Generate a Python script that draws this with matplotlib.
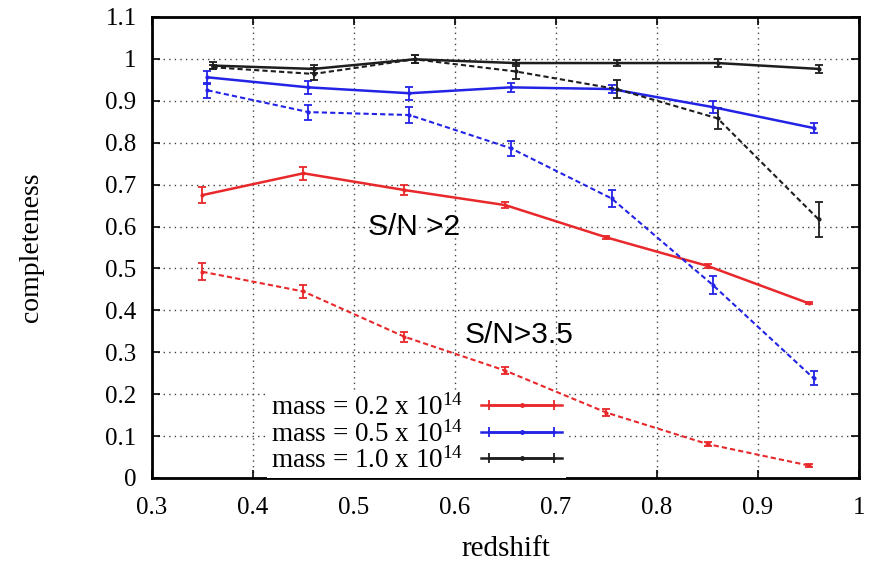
import matplotlib
matplotlib.use("Agg")
import matplotlib.pyplot as plt
from matplotlib.lines import Line2D
from matplotlib.legend_handler import HandlerLine2D, HandlerTuple
from matplotlib.ticker import MultipleLocator, FormatStrFormatter

plt.rcParams['font.family'] = ['Liberation Serif', 'DejaVu Serif']
plt.rcParams['mathtext.fontset'] = 'custom'
plt.rcParams['mathtext.rm'] = 'Liberation Serif'
plt.rcParams['mathtext.it'] = 'Liberation Serif'

# ---------------- data ----------------
z_red = [0.35, 0.45, 0.55, 0.65, 0.75, 0.85, 0.95]
z_blue = [0.355, 0.455, 0.555, 0.655, 0.755, 0.855, 0.955]
z_black = [0.36, 0.46, 0.56, 0.66, 0.76, 0.86, 0.96]

# S/N > 2 (solid)
red_sn2 = [0.675, 0.727, 0.687, 0.651, 0.574, 0.506, 0.417]
red_sn2_err = [0.02, 0.015, 0.012, 0.008, 0.004, 0.004, 0.003]
blue_sn2 = [0.956, 0.932, 0.918, 0.932, 0.928, 0.885, 0.835]
blue_sn2_err = [0.015, 0.015, 0.015, 0.01, 0.01, 0.015, 0.012]
black_sn2 = [0.984, 0.976, 0.999, 0.99, 0.99, 0.99, 0.976]
black_sn2_err = [0.008, 0.01, 0.01, 0.008, 0.008, 0.01, 0.01]

# S/N > 3.5 (dashed)
red_sn35 = [0.492, 0.445, 0.337, 0.256, 0.156, 0.081, 0.030]
red_sn35_err = [0.02, 0.015, 0.012, 0.008, 0.008, 0.004, 0.003]
blue_sn35 = [0.925, 0.873, 0.866, 0.787, 0.667, 0.461, 0.238]
blue_sn35_err = [0.018, 0.018, 0.018, 0.018, 0.021, 0.022, 0.017]
black_sn35 = [0.98, 0.964, 0.999, 0.97, 0.928, 0.858, 0.617]
black_sn35_err = [0.005, 0.015, 0.01, 0.017, 0.022, 0.025, 0.042]

legend_labels = ["mass = 0.2 x 10$^{14}$", "mass = 0.5 x 10$^{14}$", "mass = 1.0 x 10$^{14}$"]
ann_sn2 = "S/N >2"
ann_sn35 = "S/N>3.5"

RED = '#e8282a'
BLUE = '#2323e6'
BLACK = '#1e1e1e'

fig = plt.figure(figsize=(8.73, 5.65), dpi=100)
ax = fig.add_axes([0.174, 0.154, 0.810, 0.816])

series = [
    (z_red, red_sn2, red_sn2_err, red_sn35, red_sn35_err, RED),
    (z_blue, blue_sn2, blue_sn2_err, blue_sn35, blue_sn35_err, BLUE),
    (z_black, black_sn2, black_sn2_err, black_sn35, black_sn35_err, BLACK),
]
for x, y1, e1, y2, e2, c in series:
    ax.errorbar(x, y1, yerr=e1, color=c, lw=1.8, marker='.', ms=4,
                capsize=3, elinewidth=1.3, capthick=1.3, zorder=3)
    ax.errorbar(x, y2, yerr=e2, color=c, lw=1.5, ls=(0, (2.5, 1.5)), marker='.', ms=4,
                capsize=3, elinewidth=1.3, capthick=1.3, zorder=3)

ax.set_xlim(0.3, 1.0)
ax.set_ylim(0, 1.1)
ax.xaxis.set_major_locator(MultipleLocator(0.1))
ax.yaxis.set_major_locator(MultipleLocator(0.1))
ax.xaxis.set_major_formatter(FormatStrFormatter('%g'))
ax.yaxis.set_major_formatter(FormatStrFormatter('%g'))
ax.tick_params(direction='in', top=True, right=True, length=6, width=1.2,
               labelsize=18)
ax.tick_params(axis='x', pad=14)
ax.tick_params(axis='y', pad=11)
ax.grid(True, color='#444444', ls=(0, (1, 3)), lw=1.0)
for s in ax.spines.values():
    s.set_linewidth(2)

ax.set_xlabel("redshift", fontsize=21)
ax.set_ylabel("completeness", fontsize=20)
ax.xaxis.set_label_coords(0.5, -0.125)
ax.yaxis.set_label_coords(-0.152, 0.5)

ax.text(0.514, 0.58, ann_sn2, fontsize=21.5, family=['Liberation Sans', 'DejaVu Sans'],
        va='baseline', ha='left', zorder=5)
ax.text(0.610, 0.323, ann_sn35, fontsize=21.5, family=['Liberation Sans', 'DejaVu Sans'],
        va='baseline', ha='left', zorder=5)

# legend handles: line with end caps and middle dot
handles = []
hmap = {}
for c in (RED, BLUE, BLACK):
    caps = Line2D([0], [0], color=c, lw=1.8, marker='|', ms=7, mew=1.3)
    dot = Line2D([0], [0], color=c, lw=1.8, marker='.', ms=5)
    hmap[caps] = HandlerLine2D(numpoints=2)
    handles.append((caps, dot))
hmap[tuple] = HandlerTuple(ndivide=1, pad=0)
leg = ax.legend(handles, legend_labels, handler_map=hmap, loc='lower right',
                bbox_to_anchor=(0.586, 0.0), frameon=True, facecolor='white',
                edgecolor='none', framealpha=1.0, fancybox=False, markerfirst=False,
                fontsize=19.5, handlelength=3.0, labelspacing=0.0, handletextpad=0.65,
                borderpad=0.15, borderaxespad=0.0, numpoints=1)
leg.set_zorder(2.5)
for t in leg.get_texts():
    t.set_ha('right')

fig.savefig("out.png", dpi=100)
